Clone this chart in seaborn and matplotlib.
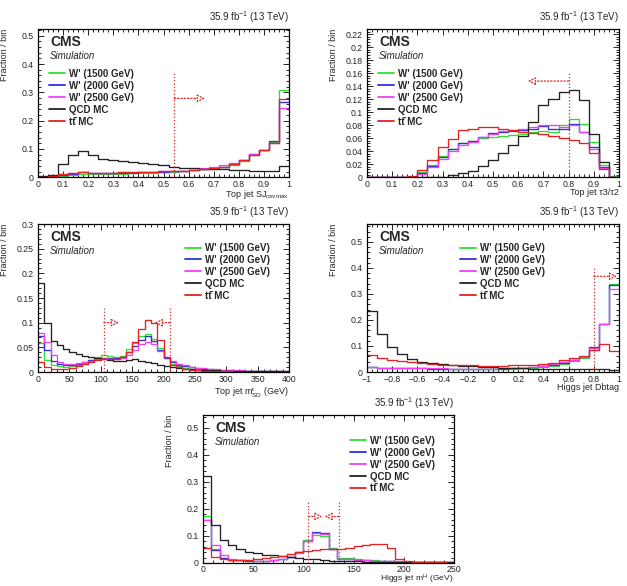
import numpy as np
import pandas as pd
import matplotlib
matplotlib.use("Agg")
import matplotlib.pyplot as plt
import seaborn as sns
from matplotlib.ticker import MultipleLocator, AutoMinorLocator, FuncFormatter
from matplotlib.lines import Line2D

# ------------------------------------------------------------------ data
series_names = ["W' (1500 GeV)", "W' (2000 GeV)", "W' (2500 GeV)", "QCD MC", "tt\u0304 MC"]

# Panel 1: Top jet SJ_csvmax, 25 bins on [0, 1]
p1_edges = np.linspace(0.0, 1.0, 26)
p1_w1500 = [0.002, 0.003, 0.005, 0.008, 0.012, 0.011, 0.012, 0.012, 0.013, 0.014, 0.015, 0.016, 0.017,
            0.020, 0.022, 0.025, 0.028, 0.031, 0.036, 0.045, 0.058, 0.080, 0.096, 0.126, 0.307]
p1_w2000 = [0.002, 0.003, 0.007, 0.012, 0.018, 0.014, 0.014, 0.015, 0.015, 0.016, 0.017, 0.018, 0.019,
            0.021, 0.023, 0.026, 0.030, 0.033, 0.038, 0.046, 0.060, 0.082, 0.097, 0.130, 0.265]
p1_w2500 = [0.002, 0.004, 0.010, 0.016, 0.019, 0.016, 0.015, 0.016, 0.017, 0.018, 0.019, 0.020, 0.021,
            0.022, 0.024, 0.027, 0.032, 0.036, 0.042, 0.050, 0.062, 0.082, 0.096, 0.122, 0.245]
p1_qcd = [0.003, 0.008, 0.048, 0.078, 0.094, 0.078, 0.065, 0.062, 0.058, 0.054, 0.050, 0.047, 0.042,
          0.036, 0.034, 0.033, 0.031, 0.029, 0.028, 0.026, 0.025, 0.023, 0.022, 0.021, 0.040]
p1_tt = [0.002, 0.004, 0.011, 0.015, 0.017, 0.015, 0.015, 0.016, 0.017, 0.018, 0.019, 0.020, 0.021,
         0.022, 0.023, 0.026, 0.029, 0.032, 0.037, 0.046, 0.060, 0.080, 0.095, 0.120, 0.278]

# Panel 2: Top jet tau3/tau2, 25 bins on [0, 1]
p2_edges = np.linspace(0.0, 1.0, 26)
p2_w1500 = [0, 0, 0, 0, 0.001, 0.008, 0.019, 0.033, 0.044, 0.052, 0.056, 0.060, 0.062, 0.064, 0.065,
            0.066, 0.070, 0.071, 0.069, 0.080, 0.090, 0.082, 0.054, 0.019, 0.002]
p2_w2000 = [0, 0, 0, 0, 0.001, 0.006, 0.018, 0.031, 0.043, 0.053, 0.056, 0.062, 0.068, 0.070, 0.071,
            0.072, 0.075, 0.079, 0.075, 0.075, 0.082, 0.070, 0.046, 0.016, 0.001]
p2_w2500 = [0, 0, 0, 0, 0.001, 0.005, 0.016, 0.028, 0.040, 0.050, 0.055, 0.062, 0.067, 0.071, 0.073,
            0.075, 0.078, 0.080, 0.080, 0.077, 0.080, 0.070, 0.044, 0.014, 0.001]
p2_qcd = [0, 0, 0, 0, 0, 0, 0, 0.001, 0.003, 0.006, 0.010, 0.018, 0.027, 0.037, 0.050,
          0.063, 0.085, 0.111, 0.121, 0.131, 0.134, 0.119, 0.067, 0.024, 0.0]
p2_tt = [0, 0, 0, 0, 0.002, 0.011, 0.027, 0.046, 0.059, 0.072, 0.075, 0.077, 0.077, 0.075, 0.073,
         0.070, 0.068, 0.066, 0.064, 0.061, 0.058, 0.052, 0.038, 0.012, 0.0]

# Panel 3: Top jet m_SD, 40 bins on [0, 400] GeV
p3_edges = np.linspace(0.0, 400.0, 41)
p3_w1500 = [0.058, 0.025, 0.014, 0.012, 0.011, 0.012, 0.015, 0.019, 0.024, 0.030, 0.035, 0.032, 0.030,
            0.033, 0.046, 0.059, 0.072, 0.078, 0.066, 0.048, 0.028, 0.016, 0.012, 0.009, 0.007, 0.006,
            0.005, 0.004, 0.004, 0.003, 0.003, 0.003, 0.002, 0.002, 0.002, 0.002, 0.002, 0.001, 0.001, 0.001]
p3_w2000 = [0.072, 0.045, 0.022, 0.016, 0.014, 0.015, 0.017, 0.021, 0.024, 0.027, 0.029, 0.029, 0.028,
            0.031, 0.040, 0.052, 0.065, 0.072, 0.062, 0.045, 0.029, 0.020, 0.015, 0.012, 0.010, 0.008,
            0.007, 0.006, 0.005, 0.004, 0.004, 0.003, 0.003, 0.003, 0.002, 0.002, 0.002, 0.002, 0.002, 0.001]
p3_w2500 = [0.080, 0.060, 0.035, 0.021, 0.017, 0.016, 0.018, 0.020, 0.023, 0.026, 0.028, 0.027, 0.027,
            0.028, 0.035, 0.045, 0.056, 0.060, 0.056, 0.042, 0.030, 0.022, 0.017, 0.014, 0.011, 0.009,
            0.008, 0.007, 0.006, 0.005, 0.005, 0.004, 0.004, 0.003, 0.003, 0.003, 0.002, 0.002, 0.002, 0.002]
p3_qcd = [0.180, 0.100, 0.062, 0.055, 0.047, 0.040, 0.036, 0.033, 0.031, 0.029, 0.027, 0.025, 0.023,
          0.022, 0.024, 0.026, 0.022, 0.020, 0.018, 0.015, 0.012, 0.010, 0.008, 0.007, 0.006, 0.005,
          0.005, 0.004, 0.004, 0.003, 0.003, 0.003, 0.003, 0.002, 0.002, 0.002, 0.002, 0.002, 0.002, 0.002]
p3_tt = [0.020, 0.010, 0.006, 0.006, 0.007, 0.009, 0.012, 0.016, 0.021, 0.025, 0.027, 0.026, 0.026,
         0.030, 0.040, 0.060, 0.088, 0.105, 0.100, 0.065, 0.030, 0.014, 0.010, 0.007, 0.005, 0.004,
         0.003, 0.003, 0.002, 0.002, 0.002, 0.001, 0.001, 0.001, 0.001, 0.001, 0.001, 0.001, 0.001, 0.001]

# Panel 4: Higgs jet Dbtag, 25 bins on [-1, 1]
p4_edges = np.linspace(-1.0, 1.0, 26)
p4_w1500 = [0.018, 0.016, 0.015, 0.015, 0.014, 0.014, 0.013, 0.013, 0.013, 0.012, 0.012, 0.012, 0.012,
            0.012, 0.013, 0.014, 0.016, 0.019, 0.024, 0.032, 0.042, 0.055, 0.092, 0.185, 0.340]
p4_w2000 = [0.018, 0.016, 0.015, 0.015, 0.014, 0.014, 0.013, 0.013, 0.013, 0.012, 0.012, 0.012, 0.012,
            0.013, 0.014, 0.015, 0.018, 0.022, 0.028, 0.036, 0.046, 0.058, 0.095, 0.185, 0.335]
p4_w2500 = [0.019, 0.017, 0.016, 0.015, 0.015, 0.014, 0.014, 0.014, 0.013, 0.013, 0.013, 0.013, 0.013,
            0.014, 0.015, 0.016, 0.019, 0.023, 0.029, 0.037, 0.047, 0.058, 0.093, 0.183, 0.318]
p4_qcd = [0.235, 0.145, 0.095, 0.070, 0.050, 0.040, 0.034, 0.030, 0.027, 0.024, 0.022, 0.020, 0.018,
          0.016, 0.015, 0.014, 0.013, 0.012, 0.012, 0.011, 0.011, 0.011, 0.012, 0.013, 0.008]
p4_tt = [0.065, 0.055, 0.048, 0.042, 0.037, 0.033, 0.030, 0.028, 0.027, 0.026, 0.025, 0.024, 0.024,
         0.024, 0.025, 0.026, 0.028, 0.031, 0.035, 0.045, 0.053, 0.062, 0.085, 0.106, 0.082]

# Panel 5: Higgs jet m_SD, 30 bins on [0, 250] GeV
p5_edges = np.linspace(0.0, 250.0, 31)
p5_w1500 = [0.175, 0.050, 0.020, 0.012, 0.010, 0.009, 0.008, 0.008, 0.010, 0.014, 0.022, 0.040, 0.085,
            0.105, 0.100, 0.055, 0.020, 0.018, 0.015, 0.012, 0.010, 0.008, 0.006, 0.005, 0.004, 0.004,
            0.003, 0.003, 0.002, 0.002]
p5_w2000 = [0.160, 0.048, 0.020, 0.012, 0.010, 0.009, 0.008, 0.008, 0.010, 0.014, 0.022, 0.040, 0.082,
            0.113, 0.110, 0.050, 0.016, 0.013, 0.011, 0.010, 0.008, 0.007, 0.006, 0.005, 0.004, 0.003,
            0.003, 0.002, 0.002, 0.002]
p5_w2500 = [0.158, 0.066, 0.028, 0.015, 0.011, 0.010, 0.009, 0.009, 0.011, 0.015, 0.022, 0.038, 0.080,
            0.112, 0.108, 0.050, 0.016, 0.014, 0.012, 0.010, 0.009, 0.008, 0.007, 0.006, 0.005, 0.004,
            0.003, 0.003, 0.002, 0.002]
p5_qcd = [0.320, 0.140, 0.085, 0.065, 0.050, 0.042, 0.036, 0.031, 0.028, 0.025, 0.022, 0.019, 0.016,
          0.013, 0.011, 0.009, 0.008, 0.007, 0.006, 0.005, 0.005, 0.004, 0.004, 0.003, 0.003, 0.003,
          0.002, 0.002, 0.002, 0.002]
p5_tt = [0.055, 0.022, 0.013, 0.011, 0.011, 0.012, 0.015, 0.018, 0.022, 0.027, 0.033, 0.040, 0.045,
         0.048, 0.050, 0.050, 0.052, 0.055, 0.062, 0.068, 0.072, 0.072, 0.055, 0.015, 0.006, 0.004,
         0.003, 0.002, 0.002, 0.001]

# cut values (vertical dashed lines) and arrows (start, end, height)
p1_cuts = [0.543];       p1_cut_top = 0.373; p1_arrows = [(0.543, 0.665, 0.279)]
p2_cuts = [0.80];        p2_cut_top = 0.163; p2_arrows = [(0.80, 0.638, 0.148)]
p3_cuts = [105, 210];    p3_cut_top = 0.130; p3_arrows = [(105, 129, 0.100), (210, 186, 0.100)]
p4_cuts = [0.80];        p4_cut_top = 0.400; p4_arrows = [(0.80, 0.985, 0.368)]
p5_cuts = [105, 135];    p5_cut_top = 0.232; p5_arrows = [(105, 119, 0.172), (135, 121, 0.172)]

# ------------------------------------------------------------------ style
sns.set_style("ticks")
plt.rcParams.update({
    "font.family": ["Liberation Sans", "DejaVu Sans"],
    "mathtext.fontset": "custom",
    "mathtext.rm": "Liberation Sans",
    "mathtext.it": "Liberation Sans:italic",
    "mathtext.bf": "Liberation Sans:bold",
    "axes.linewidth": 0.9,
    "axes.edgecolor": "black",
})

COLORS = ["#30e030", "#2f2fe0", "#f040f0", "#222222", "#e82020"]
LW = 0.95
FW, FH = 627, 586

fig = plt.figure(figsize=(FW / 100, FH / 100), dpi=100)


def rect(x0, y0, x1, y1):
    return [x0 / FW, 1 - y1 / FH, (x1 - x0) / FW, (y1 - y0) / FH]


fmt = FuncFormatter(lambda v, p: ("%g" % round(v, 6)).replace("-", "\u2212"))

panels = [
    dict(r=rect(38, 29, 289, 177.3), edges=p1_edges, data=[p1_w1500, p1_w2000, p1_w2500, p1_qcd, p1_tt],
         xlim=(0, 1), ylim=(0, 0.524), xmaj=0.1, ymaj=0.1,
         xlabel=r"Top jet SJ$_{\mathrm{csvmax}}$", xly=-0.072, leg=(0.044, 0.731), pad=2,
         cuts=p1_cuts, cut_top=p1_cut_top, arrows=p1_arrows),
    dict(r=rect(367, 29, 619, 177.3), edges=p2_edges, data=[p2_w1500, p2_w2000, p2_w2500, p2_qcd, p2_tt],
         xlim=(0, 1), ylim=(0, 0.228), xmaj=0.1, ymaj=0.02,
         xlabel="Top jet \u03c43/\u03c42", xly=-0.072, leg=(0.044, 0.731), pad=2,
         cuts=p2_cuts, cut_top=p2_cut_top, arrows=p2_arrows),
    dict(r=rect(38, 224, 289, 372), edges=p3_edges, data=[p3_w1500, p3_w2000, p3_w2500, p3_qcd, p3_tt],
         xlim=(0, 400), ylim=(0, 0.3), xmaj=50, ymaj=0.05,
         xlabel=r"Top jet m$^{\mathrm{t}}_{\mathrm{SD}}$ (GeV)", xly=-0.092, leg=(0.586, 0.872), pad=2,
         cuts=p3_cuts, cut_top=p3_cut_top, arrows=p3_arrows),
    dict(r=rect(367, 224, 619, 372), edges=p4_edges, data=[p4_w1500, p4_w2000, p4_w2500, p4_qcd, p4_tt],
         xlim=(-1, 1), ylim=(0, 0.569), xmaj=0.2, ymaj=0.1,
         xlabel="Higgs jet Dbtag", xly=-0.072, leg=(0.368, 0.872), pad=2,
         cuts=p4_cuts, cut_top=p4_cut_top, arrows=p4_arrows),
    dict(r=rect(203, 415, 454, 563), edges=p5_edges, data=[p5_w1500, p5_w2000, p5_w2500, p5_qcd, p5_tt],
         xlim=(0, 250), ylim=(0, 0.547), xmaj=50, ymaj=0.1,
         xlabel=r"Higgs jet m$^{\mathrm{H}}$ (GeV)", xly=None, leg=(0.586, 0.86), pad=1.2,
         cuts=p5_cuts, cut_top=p5_cut_top, arrows=p5_arrows),
]

for P in panels:
    ax = fig.add_axes(P["r"])
    edges = [float(e) for e in P["edges"]]
    centers = [0.5 * (a + b) for a, b in zip(edges[:-1], edges[1:])]
    for name, vals, col in zip(series_names, P["data"], COLORS):
        df = pd.DataFrame({"x": centers, "w": vals})
        sns.histplot(data=df, x="x", weights="w", bins=edges, element="step", fill=False,
                     color=col, linewidth=LW, ax=ax)

    ax.set_xlim(*P["xlim"])
    ax.set_ylim(*P["ylim"])
    ax.xaxis.set_major_locator(MultipleLocator(P["xmaj"]))
    ax.yaxis.set_major_locator(MultipleLocator(P["ymaj"]))
    ax.xaxis.set_minor_locator(AutoMinorLocator(5))
    ax.yaxis.set_minor_locator(AutoMinorLocator(5))
    ax.xaxis.set_major_formatter(fmt)
    ax.yaxis.set_major_formatter(fmt)
    ax.tick_params(which="both", direction="in", top=True, right=True, labelsize=6.3, width=0.7)
    ax.tick_params(axis="x", which="both", pad=P["pad"])
    ax.tick_params(axis="y", which="both", pad=3.2)
    ax.tick_params(which="major", length=4.2)
    ax.tick_params(which="minor", length=2.3)
    for s in ax.spines.values():
        s.set_visible(True)
        s.set_linewidth(0.9)

    if P["xly"] is None:
        # label sits at the very bottom of the figure, text bottom just inside it
        ax.set_xlabel(P["xlabel"], fontsize=6.1, loc="right")
        ax.xaxis.label.set_verticalalignment("bottom")
        ax.xaxis.set_label_coords(1.0, (563 - 586.2) / 148)
    else:
        ax.set_xlabel(P["xlabel"], fontsize=6.5, loc="right")
        ax.xaxis.set_label_coords(1.0, P["xly"])
    ax.set_ylabel("Fraction / bin", fontsize=6.5, loc="top")
    ax.yaxis.set_label_coords(-0.115, 1.0)

    # cut lines and arrows
    ax.vlines(P["cuts"], 0, P["cut_top"], colors="#e82020", linestyles=":", linewidth=0.9)
    for (xs, xe, yy) in P["arrows"]:
        ax.annotate("", xy=(xe, yy), xytext=(xs, yy), xycoords="data",
                    arrowprops=dict(arrowstyle="-|>,head_length=0.45,head_width=0.22",
                                    linestyle=":", color="#e82020", fc="white", lw=0.9,
                                    shrinkA=0, shrinkB=0))

    handles = [Line2D([], [], color=c, lw=1.3) for c in COLORS]
    ax.legend(handles, series_names, loc="upper left", bbox_to_anchor=P["leg"], frameon=False,
              prop=dict(weight="bold", size=7), handlelength=1.65, handletextpad=0.4,
              labelspacing=0.2, borderpad=0, borderaxespad=0)

    ax.text(0.048, 0.912, "CMS", transform=ax.transAxes, fontsize=10, fontweight="bold",
            ha="left", va="center")
    ax.text(0.048, 0.82, "Simulation", transform=ax.transAxes, fontsize=7, fontstyle="italic",
            ha="left", va="center")
    ax.text(1.0, 1.025, r"35.9 fb$^{-1}$ (13 TeV)", transform=ax.transAxes, fontsize=7,
            ha="right", va="bottom")

fig.savefig("out.png", dpi=100)
